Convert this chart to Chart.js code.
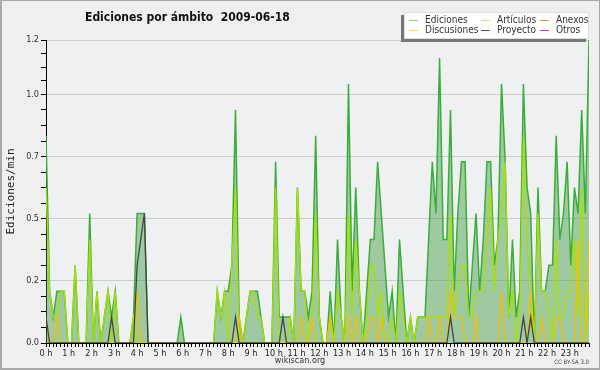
<!DOCTYPE html>
<html lang="es">
<head>
<meta charset="utf-8">
<title>Ediciones por ámbito 2009-06-18</title>
<script src="https://cdn.jsdelivr.net/npm/chart.js@4.4.0/dist/chart.umd.min.js"></script>
<style>
  html, body { margin: 0; padding: 0; background: #efefef; }
  #wrap { position: relative; width: 600px; height: 370px; background: #efefef;
          font-family: 'DejaVu Sans Condensed', 'DejaVu Sans', sans-serif; color: #222; }
  #wrap canvas { position: absolute; left: 0; top: 0; }
  #frame { position: absolute; left: 0; top: 0; right: 0; bottom: 0; pointer-events: none;
           border: solid #a8a8a8; border-width: 1px 1px 2px 2px; }
  #title { position: absolute; left: 85px; top: 10px; font-weight: bold; font-size: 12px;
           line-height: 14px; white-space: pre; color: #111; }
  #legend { position: absolute; left: 404px; top: 12px; width: 185px; height: 27px; box-sizing: border-box;
            background: #fff; border: 1px solid #ddd; box-shadow: -3px 3px 0 #777; }
  .item { position: absolute; font-size: 10px; line-height: 10px; white-space: nowrap; color: #333; }
  .item i { display: inline-block; width: 9px; height: 0; border-top: 1px solid; vertical-align: middle;
            margin-right: 7px; }
  #xtitle { position: absolute; left: 0; width: 600px; top: 355px; text-align: center; font-size: 9px;
            line-height: 11px; color: #333; }
  #cc { position: absolute; right: 11px; top: 358px; font-size: 6px; line-height: 8px; color: #444; }
</style>
</head>
<body>
<div id="wrap">
  <canvas id="chart" width="600" height="370"></canvas>
  <div id="title">Ediciones por ámbito  2009-06-18</div>
  <div id="legend"></div>
  <div id="xtitle">wikiscan.org</div>
  <div id="cc">CC BY-SA 3.0</div>
  <div id="frame"></div>
</div>
<script>
/* ediciones por intervalo de 9,6 min (150 puntos, 0 h → 23 h 50) */
const BIN_MIN = 9.6;

const horas = ['0 h','1 h','2 h','3 h','4 h','5 h','6 h','7 h','8 h','9 h','10 h','11 h',
               '12 h','13 h','14 h','15 h','16 h','17 h','18 h','19 h','20 h','21 h','22 h','23 h'];

const ediciones = [
  8,2,1,2,2,2,0,0,3,0,  0,0,5,0,2,0,1,2,1,2,  0,0,0,0,1,5,5,5,0,0,
  0,0,0,0,0,0,0,1,0,0,  0,0,0,0,0,0,0,2,1,2,  2,3,9,1,0,1,2,2,2,1,
  0,0,0,7,1,1,1,1,0,6,  2,2,1,2,8,1,0,0,2,0,  4,1,0,10,2,6,2,0,2,4,
  4,7,5,3,1,2,0,4,2,0,  1,0,1,1,1,4,7,5,11,4, 4,9,2,5,7,7,1,3,5,2,
  4,7,7,3,4,10,7,1,4,1, 2,10,6,5,0,6,2,2,3,3, 8,4,5,7,3,6,5,9,5,11.7
];
const articulos = [
  6,2,1,1,2,2,0,0,3,0,  0,0,4,0,2,0,1,2,0,2,  0,0,0,0,1,0,0,0,0,0,
  0,0,0,0,0,0,0,0,0,0,  0,0,0,0,0,0,0,2,1,2,  0,3,6,0,0,1,2,2,1,1,
  0,0,0,6,0,0,0,1,0,6,  2,2,0,1,5,1,0,0,1,0,  2,1,0,5,1,4,2,0,1,3,
  3,1,2,0,0,1,0,2,1,0,  1,0,1,1,1,1,1,1,1,1,  1,5,1,2,3,3,1,1,2,2,
  2,4,6,2,4,5,7,1,2,0,  1,8,4,2,0,5,2,2,1,0,  4,1,1,2,2,4,1,6,0,2
];
const discusiones = [
  1,0,0,1,0,0,0,0,0,0,  0,0,0,0,0,0,0,0,0,0,  0,0,0,0,0,2,0,0,0,0,
  0,0,0,0,0,0,0,0,0,0,  0,0,0,0,0,0,0,0,0,0,  0,0,0,1,0,0,0,0,0,0,
  0,0,0,0,0,0,0,0,0,0,  1,0,0,1,0,0,0,0,1,0,  0,0,0,1,0,1,0,0,0,1,
  1,0,1,0,0,0,0,0,0,0,  0,0,0,0,0,1,0,0,1,0,  0,2,1,1,1,0,0,0,1,0,
  0,0,0,0,0,2,0,0,0,0,  0,0,0,2,0,0,1,0,0,0,  1,1,0,0,0,0,4,0,0,4
];
const proyecto = [
  1,0,0,0,0,0,0,0,0,0,  0,0,0,0,0,0,0,0,1,0,  0,0,0,0,0,3,4,5,0,0,
  0,0,0,0,0,0,0,0,0,0,  0,0,0,0,0,0,0,0,0,0,  0,0,1,0,0,0,0,0,0,0,
  0,0,0,0,0,1,0,0,0,0,  0,0,0,0,0,0,0,0,0,0,  0,0,0,0,0,0,0,0,0,0,
  0,0,0,0,0,0,0,0,0,0,  0,0,0,0,0,0,0,0,0,0,  0,1,0,0,0,0,0,0,0,0,
  0,0,0,0,0,0,0,0,0,0,  0,1,0,1,0,0,0,0,0,0,  0,0,0,0,0,0,0,0,0,0
];

const yGrid = [0, 0.25, 0.5, 0.75, 1.0];

const leyenda = [
  ['Ediciones', '#88cc88'], ['Artículos', '#ccee66'], ['Anexos', '#ee8855'],
  ['Discusiones', '#ffd855'], ['Proyecto', '#555555'], ['Otros', '#9944ee'],
];

/* ── leyenda (3 columnas x 2 filas) ── */
const colX = [4, 76, 135];
const rowY = [2, 12];
const legendEl = document.getElementById('legend');
leyenda.forEach(([name, color], i) => {
  const el = document.createElement('div');
  el.className = 'item';
  el.style.left = colX[i % 3] + 'px';
  el.style.top  = rowY[Math.floor(i / 3)] + 'px';
  el.innerHTML = '<i style="border-color:' + color + '"></i>' + name;
  legendEl.appendChild(el);
});

/* ── gráfico ── */
const tiempo = ediciones.map((_, i) => i * BIN_MIN / 60);   // horas
const toRate = arr => arr.map(v => v / BIN_MIN);            // ediciones/min
const yMax = Math.max(...ediciones) / BIN_MIN;

const FONT = "'DejaVu Sans Condensed', 'DejaVu Sans', sans-serif";

const fondo = {
  id: 'fondo',
  beforeDraw(c) {
    const { ctx, chartArea: a } = c;
    ctx.save();
    ctx.fillStyle = '#eef0f2';
    ctx.fillRect(a.left, a.top, a.width, a.height);
    ctx.restore();
  },
};

const lineBase = { pointRadius: 0, tension: 0, fill: false, borderWidth: 1.3 };

new Chart(document.getElementById('chart'), {
  type: 'line',
  data: {
    labels: tiempo,
    datasets: [
      { ...lineBase, label: 'Ediciones', data: toRate(ediciones), borderColor: '#3aae3a',
        backgroundColor: 'rgba(50,150,50,0.42)', fill: 'origin', borderWidth: 1.5, order: 4 },
      { ...lineBase, label: 'Artículos', data: toRate(articulos), borderColor: '#a8e000', order: 3 },
      { ...lineBase, label: 'Discusiones', data: toRate(discusiones), borderColor: '#f2c200', order: 2 },
      { ...lineBase, label: 'Proyecto', data: toRate(proyecto), borderColor: '#444444', order: 1 },
    ],
  },
  options: {
    responsive: false, animation: false, devicePixelRatio: 1,
    layout: { padding: { top: 40, right: 11, bottom: 0, left: 0 } },
    plugins: { legend: { display: false }, title: { display: false }, tooltip: { enabled: false } },
    scales: {
      x: {
        type: 'linear', min: 0, max: tiempo[tiempo.length - 1], z: 1,
        border: { color: '#000', width: 1 },
        grid: {
          drawOnChartArea: false, tickLength: 4,
          tickColor: ctx => (ctx.tick && ctx.tick.bin) ? '#000' : 'rgba(0,0,0,0)',
        },
        afterBuildTicks: s => {
          s.ticks = tiempo.map(v => ({ value: v, bin: true }))
            .concat(horas.map((h, i) => ({ value: i, txt: h })))
            .sort((a, b) => a.value - b.value);
        },
        ticks: {
          autoSkip: false, maxRotation: 0, padding: 1, color: '#222',
          font: { family: FONT, size: 9 },
          callback: (v, i, t) => t[i].txt || '',
        },
        afterFit: s => { s.height = 27; },
      },
      y: {
        min: 0, max: yMax,
        border: { color: '#000', width: 1 },
        grid: {
          tickLength: 5, tickColor: '#000',
          color: ctx => (ctx.tick && ctx.tick.mj) ? '#cccccc' : 'rgba(0,0,0,0)',
        },
        afterBuildTicks: s => {
          const stops = yGrid.concat([yMax]);
          const t = [];
          for (let m = 0; m < stops.length - 1; m++) {
            for (let k = 0; k < 4; k++) {
              t.push({ value: stops[m] + (stops[m + 1] - stops[m]) * k / 4, mj: k === 0 });
            }
          }
          t.push({ value: yMax, mj: true });
          s.ticks = t;
        },
        ticks: {
          padding: 2, color: '#333', font: { family: FONT, size: 9 },
          callback: (v, i, t) => t[i].mj ? (Math.floor(v * 10 + 1e-9) / 10).toFixed(1) : '',
        },
        title: {
          display: true, text: 'Ediciones/min', color: '#222',
          font: { family: "'DejaVu Sans Mono', monospace", size: 11 },
          padding: { top: 5, bottom: 0 },
        },
        afterFit: s => { s.width = 46; },
      },
    },
  },
  plugins: [fondo],
});
</script>
</body>
</html>
